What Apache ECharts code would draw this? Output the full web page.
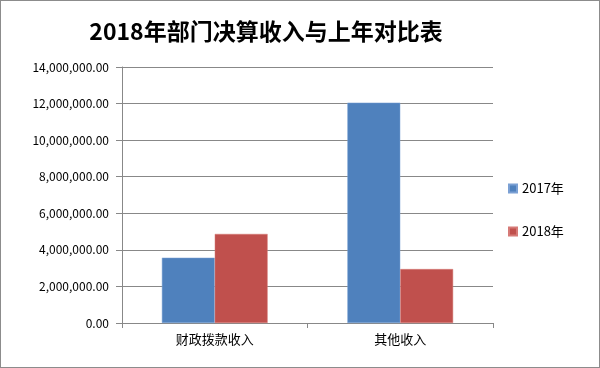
<!DOCTYPE html>
<html><head><meta charset="utf-8">
<script src="https://cdn.jsdelivr.net/npm/echarts@6/dist/echarts.min.js"></script>
<style>html,body{margin:0;padding:0;background:#fff}
#c{position:absolute;left:0;top:0;width:598px;height:366px;border:1px solid #8c8c8c;}</style>
</head><body><div id="c"></div>
<script>
const title = '2018年部门决算收入与上年对比表';
const categories = ['财政拨款收入', '其他收入'];
const seriesNames = ['2017年', '2018年'];
const values2017 = [3570000, 12050000];
const values2018 = [4870000, 2950000];
const yTicks = {min: 0, max: 14000000, interval: 2000000};

const chart = echarts.init(document.getElementById('c'), null, {renderer: 'canvas'});
function fmt(v){
  return v.toLocaleString('en-US', {minimumFractionDigits: 2, maximumFractionDigits: 2});
}
const font = '"Noto Sans CJK SC", "DejaVu Sans", sans-serif';
chart.setOption({
  animation: false,
  textStyle: {fontFamily: font},
  title: {
    text: title, left: 260, top: 14, textAlign: 'center',
    textStyle: {fontSize: 23, fontWeight: 'bold', color: '#000', fontFamily: font}
  },
  grid: {left: 121, right: 106, top: 66, bottom: 44, containLabel: false},
  legend: {
    orient: 'vertical', left: 502, top: 176, itemGap: 30,
    itemWidth: 8, itemHeight: 8, icon: 'rect',
    textStyle: {fontSize: 13, color: '#000', fontFamily: font},
    data: seriesNames
  },
  xAxis: {
    type: 'category', data: categories,
    axisLine: {lineStyle: {color: '#888', width: 1}},
    axisTick: {show: true, length: 5, lineStyle: {color: '#888'}},
    axisLabel: {fontSize: 13, color: '#000', margin: 10}
  },
  yAxis: {
    type: 'value', min: yTicks.min, max: yTicks.max, interval: yTicks.interval,
    axisLine: {show: true, lineStyle: {color: '#888', width: 1}},
    axisTick: {show: true, length: 6, lineStyle: {color: '#888'}},
    splitLine: {lineStyle: {color: '#888', width: 1}},
    axisLabel: {fontSize: 12, color: '#000', margin: 13, formatter: fmt}
  },
  series: [
    {name: seriesNames[0], type: 'bar', data: values2017, barGap: '0%', barCategoryGap: '43%',
     itemStyle: {color: '#4f81bd', borderColor: '#7ba0d4', borderWidth: 0.5}},
    {name: seriesNames[1], type: 'bar', data: values2018, barGap: '0%', barCategoryGap: '43%',
     itemStyle: {color: '#c0504d', borderColor: '#d67a77', borderWidth: 0.5}}
  ]
});
</script></body></html>
